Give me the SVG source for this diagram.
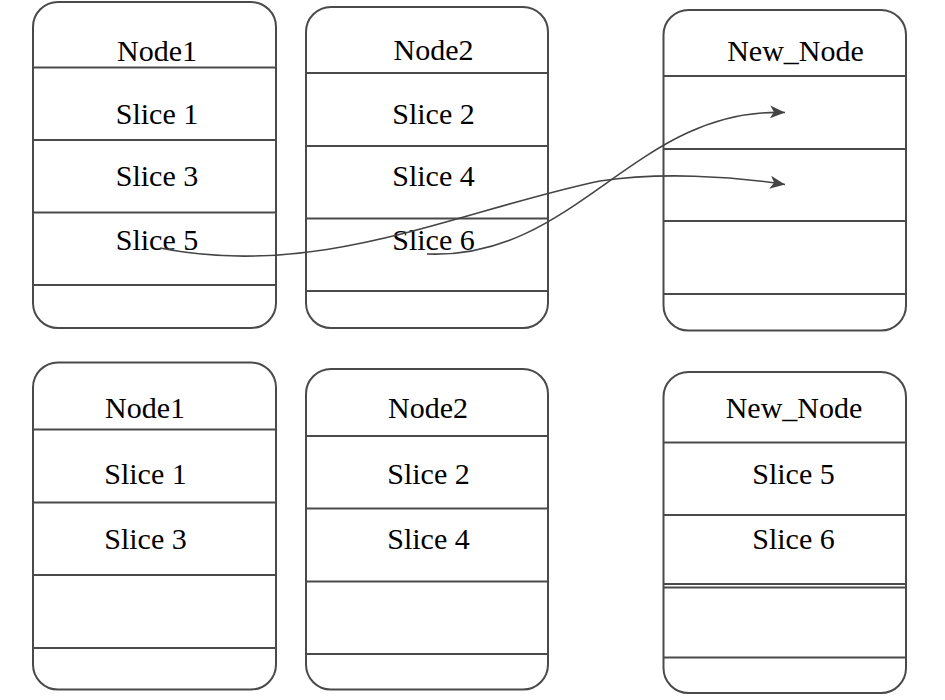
<svg xmlns="http://www.w3.org/2000/svg" width="945" height="700" viewBox="0 0 945 700">
<style>
.box{fill:#fff;stroke:#4a4a4a;stroke-width:2}
.ln{stroke:#4a4a4a;stroke-width:2}
.t{font-family:"Liberation Serif","Times New Roman",serif;font-size:30px;fill:#000;text-anchor:middle}
.c{fill:none;stroke:#444;stroke-width:1.6}
</style>
<defs>
<marker id="arr" viewBox="0 0 15 13" refX="15" refY="6.5" markerWidth="15" markerHeight="13" markerUnits="userSpaceOnUse" orient="auto">
<path d="M0,0 L15,6.5 L0,13 L4,6.5 z" fill="#444"/>
</marker>
</defs>
<rect width="945" height="700" fill="#fff"/>
<g id="node1-top">
<rect class="box" x="33" y="2" width="243" height="326" rx="25"/>
<line class="ln" x1="33" y1="67.5" x2="276" y2="67.5"/>
<line class="ln" x1="33" y1="140" x2="276" y2="140"/>
<line class="ln" x1="33" y1="212.5" x2="276" y2="212.5"/>
<line class="ln" x1="33" y1="285" x2="276" y2="285"/>
<text class="t" x="157" y="60.5">Node1</text>
<text class="t" x="157" y="124">Slice 1</text>
<text class="t" x="157" y="186">Slice 3</text>
<text class="t" x="157" y="250">Slice 5</text>
</g>
<g id="node2-top">
<rect class="box" x="306" y="7" width="242" height="321" rx="25"/>
<line class="ln" x1="306" y1="73" x2="548" y2="73"/>
<line class="ln" x1="306" y1="146" x2="548" y2="146"/>
<line class="ln" x1="306" y1="218.5" x2="548" y2="218.5"/>
<line class="ln" x1="306" y1="291" x2="548" y2="291"/>
<text class="t" x="433.5" y="60">Node2</text>
<text class="t" x="433.5" y="124">Slice 2</text>
<text class="t" x="433.5" y="186">Slice 4</text>
<text class="t" x="433.5" y="250">Slice 6</text>
</g>
<g id="newnode-top">
<rect class="box" x="663.5" y="10" width="242.5" height="320.5" rx="25"/>
<line class="ln" x1="663.5" y1="76" x2="906" y2="76"/>
<line class="ln" x1="663.5" y1="149" x2="906" y2="149"/>
<line class="ln" x1="663.5" y1="221" x2="906" y2="221"/>
<line class="ln" x1="663.5" y1="294" x2="906" y2="294"/>
<text class="t" x="795.5" y="60.5">New_Node</text>
</g>
<g id="node1-bottom">
<rect class="box" x="33" y="362.5" width="243" height="327" rx="25"/>
<line class="ln" x1="33" y1="429.5" x2="276" y2="429.5"/>
<line class="ln" x1="33" y1="502.5" x2="276" y2="502.5"/>
<line class="ln" x1="33" y1="575" x2="276" y2="575"/>
<line class="ln" x1="33" y1="648" x2="276" y2="648"/>
<text class="t" x="145" y="417.5">Node1</text>
<text class="t" x="145.5" y="483.5">Slice 1</text>
<text class="t" x="145.5" y="548.5">Slice 3</text>
</g>
<g id="node2-bottom">
<rect class="box" x="306" y="369" width="242" height="320.5" rx="25"/>
<line class="ln" x1="306" y1="436" x2="548" y2="436"/>
<line class="ln" x1="306" y1="508.5" x2="548" y2="508.5"/>
<line class="ln" x1="306" y1="581.5" x2="548" y2="581.5"/>
<line class="ln" x1="306" y1="654" x2="548" y2="654"/>
<text class="t" x="428" y="417.5">Node2</text>
<text class="t" x="428.5" y="483.5">Slice 2</text>
<text class="t" x="428.5" y="548.5">Slice 4</text>
</g>
<g id="newnode-bottom">
<rect class="box" x="663.5" y="372" width="242.5" height="321" rx="25"/>
<line class="ln" x1="663.5" y1="442.5" x2="906" y2="442.5"/>
<line class="ln" x1="663.5" y1="515" x2="906" y2="515"/>
<line class="ln" x1="663.5" y1="584" x2="906" y2="584"/>
<line class="ln" x1="663.5" y1="587.5" x2="906" y2="587.5"/>
<line class="ln" x1="663.5" y1="657.5" x2="906" y2="657.5"/>
<text class="t" x="794" y="417.5">New_Node</text>
<text class="t" x="793.5" y="483.5">Slice 5</text>
<text class="t" x="793.5" y="548.5">Slice 6</text>
</g>
<g id="connectors">
<path class="c" d="M160,248 C320,280 460,210 600,181 C660,172 730,176 785,184.5" marker-end="url(#arr)"/>
<path class="c" d="M427,254 C577,260 635,107 785,112.5" marker-end="url(#arr)"/>
</g>
</svg>
